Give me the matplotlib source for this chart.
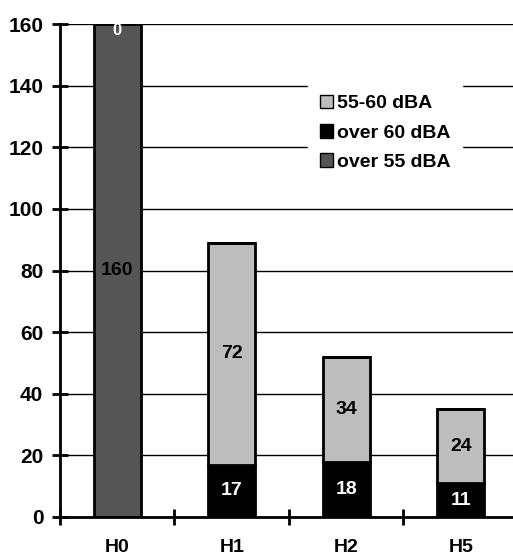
import numpy as np
import matplotlib.pyplot as plt

plt.rcParams['font.family'] = ['Liberation Sans', 'DejaVu Sans']
plt.rcParams['font.weight'] = 'bold'

categories = ["H0", "H1", "H2", "H5"]
over60 = [0, 17, 18, 11]
band5560 = [0, 72, 34, 24]
over55 = [160, 0, 0, 0]

fig = plt.figure(figsize=(5.13, 5.58), dpi=100)
ax = fig.add_axes([60 / 513, 41 / 558, 458 / 513, 493 / 558])

x = np.arange(len(categories))
w = 0.41

ax.yaxis.grid(True, color="black", linewidth=1.0)
ax.set_axisbelow(True)

b60 = ax.bar(x, over60, w, color="black", edgecolor="black", linewidth=2, label="over 60 dBA")
b5560 = ax.bar(x, band5560, w, bottom=over60, color="#bdbdbd", edgecolor="black", linewidth=2, label="55-60 dBA")
b55 = ax.bar(x, over55, w, bottom=np.array(over60) + np.array(band5560), color="#555555",
             edgecolor="black", linewidth=2, label="over 55 dBA")

for i in range(len(categories)):
    if over55[i] > 0:
        ax.text(x[i], over55[i] / 2, str(over55[i]), ha="center", va="center", fontsize=14, color="black")
        ax.text(x[i], 158, str(over60[i]), ha="center", va="center", fontsize=12, color="white")
    else:
        ax.text(x[i], over60[i] / 2, str(over60[i]), ha="center", va="center", fontsize=14, color="white")
        ax.text(x[i], over60[i] + band5560[i] / 2, str(band5560[i]), ha="center", va="center",
                fontsize=14, color="black")

ax.set_xlim(-0.5, 3.5)
ax.set_ylim(0, 160)
ax.set_yticks(np.arange(0, 161, 20))
ax.set_xticks(x)
ax.set_xticklabels(categories, fontsize=14)
ax.set_xticks(np.arange(-0.5, 3.6, 1), minor=True)
ax.tick_params(axis="x", which="major", length=0, pad=16)
ax.tick_params(axis="x", which="minor", direction="inout", length=12, width=2)
ax.tick_params(axis="y", direction="inout", length=12, width=2, labelsize=15, pad=6)

for s in ["top", "right"]:
    ax.spines[s].set_visible(False)
ax.spines["left"].set_linewidth(2)
ax.spines["bottom"].set_linewidth(2)

handles = [b5560, b60, b55]
leg = ax.legend(handles, [h.get_label() for h in handles], loc="upper left",
                bbox_to_anchor=(0.52, 0.9), frameon=True, fancybox=False, fontsize=14,
                handlelength=0.7, handleheight=0.7, handletextpad=0.2, borderpad=0.6,
                labelspacing=0.6)
leg.get_frame().set_edgecolor("white")
leg.get_frame().set_alpha(1)
for p in leg.get_patches():
    p.set_linewidth(1)

fig.savefig("out.png", dpi=100)
